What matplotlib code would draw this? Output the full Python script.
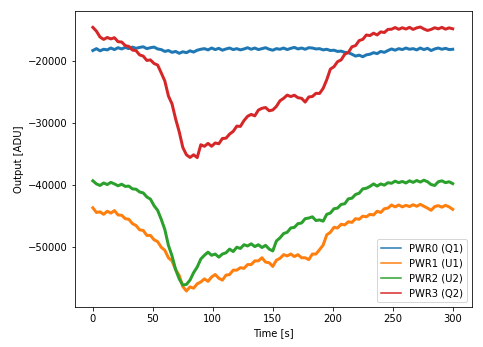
import numpy as np
import matplotlib
matplotlib.use('Agg')
import matplotlib.pyplot as plt

# Sample times (one reading every 3 s)
time_s = np.arange(0, 301, 3)

# Detector outputs [ADU]
pwr0 = [-18350, -18050, -18400, -18150, -18250, -17950, -18200, -17900, -18100, -17850,
        -18050, -17800, -18000, -17850, -17750, -18050, -17900, -17800, -18100, -18200,
        -18500, -18350, -18650, -18500, -18800, -18550, -18700, -18400, -18600, -18300,
        -18150, -18050, -18250, -17950, -18200, -18000, -18300, -18100, -17950, -18200,
        -18050, -18250, -18100, -17900, -18150, -17950, -18200, -18050, -17900, -18150,
        -18300, -18050, -18150, -17950, -18200, -18000, -17850, -18100, -17950, -18150,
        -17900, -17950, -18100, -18050, -18250, -18150, -18350, -18300, -18500, -18450,
        -18650, -18700, -18950, -19250, -19100, -19350, -19050, -18950, -18700, -18850,
        -18500, -18650, -18350, -18100, -18300, -18050, -18200, -17950, -18150, -18050,
        -18250, -17950, -18200, -18000, -18350, -18100, -17950, -18150, -18000, -18200,
        -18150]

pwr1 = [-43700, -44450, -44350, -44750, -44250, -44550, -44150, -44850, -44900, -45450,
        -45550, -46250, -46550, -47250, -47350, -48150, -48150, -48850, -49150, -50050,
        -50550, -51750, -52250, -53650, -54600, -56400, -57100, -56450, -56650, -55950,
        -55650, -55150, -55550, -54850, -54450, -55050, -55350, -54550, -54450, -53750,
        -53750, -53350, -53450, -52850, -52850, -52250, -52250, -51750, -52450, -52550,
        -53150, -52150, -51850, -51250, -51450, -51150, -51550, -51250, -51750, -51750,
        -52050, -51150, -51150, -50450, -49700, -48050, -47650, -46850, -46950, -46350,
        -46450, -45950, -46050, -45450, -45550, -45050, -45150, -44750, -44850, -44250,
        -44450, -43850, -43750, -43250, -43550, -43250, -43550, -43300, -43500, -43200,
        -43450, -43150, -43450, -43750, -44100, -43500, -43350, -43600, -43300, -43550,
        -43950]

pwr2 = [-39350, -39850, -40100, -39700, -39950, -39600, -39850, -40150, -39900, -40250,
        -40200, -40650, -40700, -41150, -41300, -41950, -42300, -43350, -44100, -45550,
        -47200, -49750, -51450, -53650, -55150, -56150, -56050, -55350, -54150, -53250,
        -51950, -51350, -50850, -51350, -51150, -51650, -51150, -50950, -50350, -50750,
        -50050, -50250, -49650, -49850, -49500, -49950, -49650, -50100, -49750, -50350,
        -50650, -49050, -48550, -47850, -47650, -46950, -46850, -46250, -46150, -45450,
        -45350, -45150, -45750, -45650, -45850, -44750, -44550, -43850, -43750, -43150,
        -43050, -42250, -42150, -41550, -41350, -40650, -40550, -40250, -39850, -40200,
        -39850, -40050, -39650, -39750, -39400, -39650, -39450, -39700, -39350, -39600,
        -39300, -39550, -39250, -39500, -39950, -40100, -39500, -39350, -39650, -39500,
        -39800]

pwr3 = [-14620, -15240, -16180, -16560, -16250, -16480, -16290, -16930, -16980, -17560,
        -17690, -18280, -18370, -19060, -19250, -19950, -19870, -20440, -20690, -21950,
        -23260, -25680, -26950, -29380, -31450, -33970, -35150, -35580, -35160, -35610,
        -33540, -33790, -33320, -33780, -33250, -33380, -32530, -32480, -31820, -31380,
        -30540, -30580, -29640, -28950, -28650, -28880, -27950, -27660, -27540, -28060,
        -27930, -27360, -26450, -26060, -25540, -25770, -25560, -25960, -26050, -26660,
        -25840, -25760, -25250, -25270, -24450, -23060, -21350, -20960, -20150, -19860,
        -18950, -18660, -17750, -17560, -16750, -16560, -15850, -15950, -15560, -15840,
        -15350, -15450, -14950, -14920, -14650, -14930, -14680, -14890, -14620, -14950,
        -14700, -14560, -14880, -15120, -14950, -14680, -14860, -14620, -14910, -14700,
        -14850]

labels = ['PWR0 (Q1)', 'PWR1 (U1)', 'PWR2 (U2)', 'PWR3 (Q2)']

# Plot all four channels
fig, ax = plt.subplots(figsize=(483 / 72, 347 / 72), dpi=72)
fig.subplots_adjust(left=0.155, right=0.977, top=0.968, bottom=0.115)

for series, label in zip([pwr0, pwr1, pwr2, pwr3], labels):
    ax.plot(time_s, series, label=label, linewidth=3.0)

ax.set_xlim(-15, 316)
ax.set_ylim(-59700, -12000)
ax.set_xlabel('Time [s]')
ax.set_ylabel('Output [ADU]')
leg = ax.legend(loc='lower right')
for line in leg.get_lines():
    line.set_linewidth(1.5)

fig.savefig('out.png', dpi=72)
